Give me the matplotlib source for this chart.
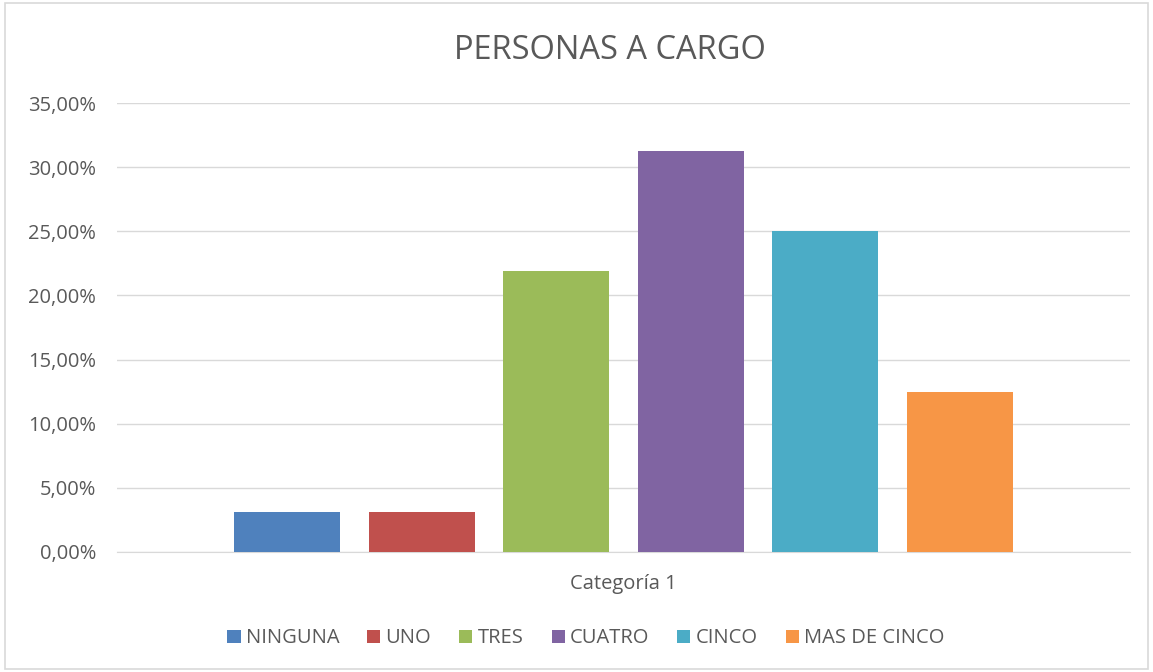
import matplotlib.pyplot as plt
import numpy as np
from matplotlib.patches import Rectangle
from matplotlib.ticker import FuncFormatter

plt.rcParams["font.family"] = ["Open Sans", "DejaVu Sans"]

title = "PERSONAS A CARGO"
category = "Categoría 1"
series = ["NINGUNA", "UNO", "TRES", "CUATRO", "CINCO", "MAS DE CINCO"]
values = [3.125, 3.125, 21.875, 31.25, 25.0, 12.5]
colors = ["#4f81bd", "#c0504d", "#9bbb59", "#8064a2", "#4bacc6", "#f79646"]

TEXT = "#595959"
GRID = "#d9d9d9"

fig = plt.figure(figsize=(11.53, 6.72), dpi=100)
fig.patches.append(Rectangle((0.004, 0.004), 0.992, 0.992, transform=fig.transFigure,
                             fill=False, edgecolor=GRID, linewidth=1.2))
ax = fig.add_axes([0.1015, 0.1786, 0.8785, 0.6681])

pitch = 0.1329
width = 0.1046
offsets = (np.arange(len(series)) - (len(series) - 1) / 2) * pitch
for off, v, c, name in zip(offsets, values, colors, series):
    ax.bar(off, v, width=width, color=c, label=name, zorder=3)

ax.set_xlim(-0.5, 0.5)
ax.set_ylim(0, 35)
ax.set_yticks(np.arange(0, 36, 5))
ax.yaxis.set_major_formatter(FuncFormatter(lambda y, _: f"{y:.2f}%".replace(".", ",")))
ax.set_xticks([0])
ax.set_xticklabels([category])
ax.tick_params(axis="both", length=0, colors=TEXT, labelsize=14.5)
ax.tick_params(axis="y", pad=15)
ax.tick_params(axis="x", pad=16)
ax.grid(axis="y", color=GRID, linewidth=1, zorder=0)
for s in ["top", "right", "left"]:
    ax.spines[s].set_visible(False)
ax.spines["bottom"].set_color(GRID)

fig.text(0.529, 0.925, title, ha="center", va="center", fontsize=23.5, color=TEXT)

leg = fig.legend(loc="center", bbox_to_anchor=(0.508, 0.05), ncol=6, frameon=False,
                 fontsize=14.5, handlelength=0.65, handleheight=0.65, handletextpad=0.25,
                 columnspacing=1.4)
for t in leg.get_texts():
    t.set_color(TEXT)

fig.savefig("out.png", dpi=100)
